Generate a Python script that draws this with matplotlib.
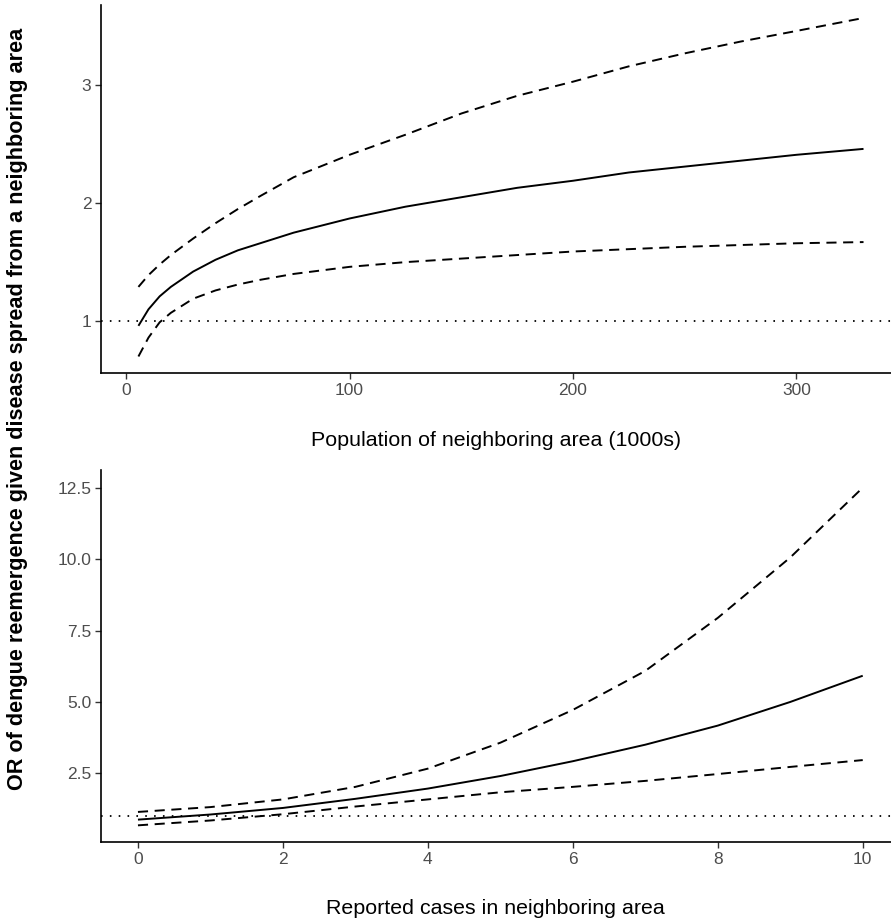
import matplotlib
matplotlib.use("Agg")
import matplotlib.pyplot as plt

plt.rcParams['font.family'] = ['Liberation Sans', 'DejaVu Sans']

# ---- Data: top panel (population of neighboring area, 1000s) ----
pop_x = [5.5, 10, 15, 20, 30, 40, 50, 60, 75, 100, 125, 150, 175, 200, 225, 250, 275, 300, 330]
pop_mean = [0.96, 1.10, 1.21, 1.29, 1.42, 1.52, 1.60, 1.66, 1.75, 1.87, 1.97, 2.05, 2.13, 2.19, 2.26, 2.31, 2.36, 2.41, 2.46]
pop_upper = [1.29, 1.39, 1.48, 1.56, 1.70, 1.83, 1.95, 2.06, 2.22, 2.41, 2.58, 2.76, 2.91, 3.03, 3.16, 3.27, 3.37, 3.46, 3.57]
pop_lower = [0.70, 0.86, 0.99, 1.07, 1.19, 1.26, 1.31, 1.35, 1.40, 1.46, 1.50, 1.53, 1.56, 1.59, 1.61, 1.63, 1.645, 1.66, 1.67]

# ---- Data: bottom panel (reported cases in neighboring area) ----
cases_x = [0, 1, 2, 3, 4, 5, 6, 7, 8, 9, 10]
cases_mean = [0.87, 1.05, 1.28, 1.60, 1.96, 2.40, 2.92, 3.50, 4.17, 5.00, 5.92]
cases_upper = [1.14, 1.31, 1.58, 2.02, 2.66, 3.57, 4.72, 6.09, 7.95, 10.07, 12.52]
cases_lower = [0.67, 0.84, 1.06, 1.33, 1.58, 1.83, 2.02, 2.23, 2.47, 2.72, 2.96]

ref_line = 1

top_xticks = [0, 100, 200, 300]
top_yticks = [1, 2, 3]
bot_xticks = [0, 2, 4, 6, 8, 10]
bot_yticks = [2.5, 5.0, 7.5, 10.0, 12.5]

W, H = 891, 924
fig = plt.figure(figsize=(W / 100, H / 100), dpi=100)

def frac_rect(l, t, r, b):
    return [l / W, 1 - b / H, (r - l) / W, (b - t) / H]

ax1 = fig.add_axes(frac_rect(101, 5, 891, 373))
ax2 = fig.add_axes(frac_rect(101, 470, 891, 842))

lw = 1.4
dash = (0, (5.2, 3.4))
dot = (0, (0.9, 4.0))

def style(ax):
    for s in ['top', 'right']:
        ax.spines[s].set_visible(False)
    for s in ['left', 'bottom']:
        ax.spines[s].set_color('black')
        ax.spines[s].set_linewidth(1.2)
    ax.tick_params(axis='both', direction='out', length=4, width=1.0,
                   color='#333333', labelcolor='#4D4D4D', labelsize=12.5, pad=3)

for ax, x, m, u, l in [(ax1, pop_x, pop_mean, pop_upper, pop_lower),
                       (ax2, cases_x, cases_mean, cases_upper, cases_lower)]:
    ax.axhline(ref_line, color='black', linewidth=1.3, linestyle=dot)
    ax.plot(x, m, color='black', linewidth=lw, solid_capstyle='butt')
    ax.plot(x, u, color='black', linewidth=lw, linestyle=dash, dash_capstyle='butt')
    ax.plot(x, l, color='black', linewidth=lw, linestyle=dash, dash_capstyle='butt')
    style(ax)

ax1.set_xlim(-11.25, 342.3)
ax1.set_ylim(0.56, 3.68)
ax1.set_xticks(top_xticks)
ax1.set_yticks(top_yticks)
ax1.set_xticklabels([str(v) for v in top_xticks])
ax1.set_yticklabels([str(v) for v in top_yticks])

ax2.set_xlim(-0.51, 10.39)
ax2.set_ylim(0.085, 13.14)
ax2.set_xticks(bot_xticks)
ax2.set_yticks(bot_yticks)
ax2.set_xticklabels([str(v) for v in bot_xticks])
ax2.set_yticklabels([f"{v:.1f}" for v in bot_yticks])

fig.text(496 / W, 1 - 440 / H, "Population of neighboring area (1000s)",
         ha='center', va='center', fontsize=15.4, color='black')
fig.text(495 / W, 1 - 908 / H, "Reported cases in neighboring area",
         ha='center', va='center', fontsize=15.4, color='black')
fig.text(18 / W, 1 - 409 / H,
         "OR of dengue reemergence given disease spread from a neighboring area",
         ha='center', va='center', rotation=90, fontsize=15.6, fontweight='bold', color='black')

fig.savefig("out.png", dpi=100, facecolor='white')
